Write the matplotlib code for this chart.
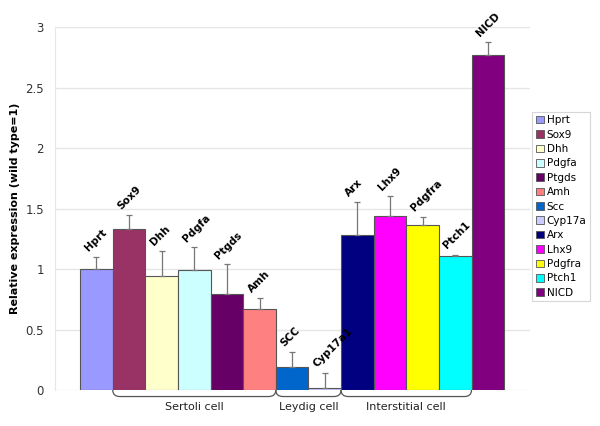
import matplotlib
matplotlib.use("Agg")
import matplotlib.pyplot as plt
from matplotlib.path import Path
from matplotlib.patches import PathPatch, Patch
import matplotlib.transforms as mtransforms
import numpy as np

# data
genes = ["Hprt", "Sox9", "Dhh", "Pdgfa", "Ptgds", "Amh", "Scc", "Cyp17a",
         "Arx", "Lhx9", "Pdgfra", "Ptch1", "NICD"]
bar_labels = ["Hprt", "Sox9", "Dhh", "Pdgfa", "Ptgds", "Amh", "SCC", "Cyp17a1",
              "Arx", "Lhx9", "Pdgfra", "Ptch1", "NICD"]
values = [1.00, 1.33, 0.94, 0.99, 0.79, 0.67, 0.19, 0.02,
          1.28, 1.44, 1.36, 1.11, 2.77]
errors = [0.10, 0.12, 0.21, 0.19, 0.25, 0.09, 0.12, 0.12,
          0.27, 0.16, 0.07, 0.01, 0.11]
colors = ["#9999FF", "#993366", "#FFFFCC", "#CCFFFF", "#660066", "#FF8080",
          "#0066CC", "#CCCCFF", "#000080", "#FF00FF", "#FFFF00", "#00FFFF",
          "#800080"]
groups = ["Sertoli cell", "Leydig cell", "Interstitial cell"]
group_spans = [(1, 5), (6, 7), (8, 11)]  # first and last bar index

fig = plt.figure(figsize=(6, 4.26), dpi=100)
ax = fig.add_axes([0.0917, 0.0845, 0.792, 0.852])

x = np.arange(len(genes))
ax.bar(x, values, width=1.0, color=colors, edgecolor="#555555", linewidth=0.8, zorder=3)
ax.errorbar(x, values, yerr=[np.zeros(len(errors)), errors], fmt="none",
            ecolor="#777777", elinewidth=0.9, capsize=2.5, capthick=0.9, zorder=4)

# rotated labels above error bars
for xi, v, e, lab in zip(x, values, errors, bar_labels):
    ax.text(xi - 0.2, v + e + 0.03, lab, rotation=45, fontsize=7.5, fontweight="bold",
            ha="left", va="bottom", rotation_mode="anchor", zorder=5)

ax.set_ylim(0, 3)
ax.set_xlim(-1.27, 13.3)
ax.set_yticks([0, 0.5, 1, 1.5, 2, 2.5, 3])
ax.set_yticklabels(["0", "0.5", "1", "1.5", "2", "2.5", "3"])
ax.tick_params(axis="y", labelsize=8.5, length=0, pad=8, colors="#333333")
ax.set_xticks([])
ax.grid(axis="y", color="#E6E6E6", linewidth=1.0, zorder=0)
for s in ["top", "right", "bottom"]:
    ax.spines[s].set_visible(False)
ax.spines["left"].set_color("#E6E6E6")
ax.set_ylabel("Relative expression (wild type=1)", fontsize=8, fontweight="bold")
ax.yaxis.set_label_coords(-0.074, 0.5)

# curly brackets under the groups
trans = mtransforms.blended_transform_factory(ax.transData, ax.transAxes)
for name, (a, b) in zip(groups, group_spans):
    x0, x1 = a - 0.5, b + 0.5
    y0, y1 = 0.0, -0.018
    r = 0.22
    verts = [(x0, y0), (x0, y1), (x0 + r, y1), (x1 - r, y1), (x1, y1), (x1, y0)]
    codes = [Path.MOVETO, Path.CURVE3, Path.CURVE3, Path.LINETO, Path.CURVE3, Path.CURVE3]
    ax.add_patch(PathPatch(Path(verts, codes), transform=trans, fill=False,
                           edgecolor="#555555", linewidth=0.9, clip_on=False))
    ax.text((x0 + x1) / 2, -0.034, name, transform=trans, ha="center", va="top",
            fontsize=8, color="#222222")

handles = [Patch(facecolor=c, edgecolor="#555555", linewidth=0.6) for c in colors]
leg = fig.legend(handles, genes, loc="upper left", bbox_to_anchor=(0.887, 0.738),
                 fontsize=7.5, frameon=True, handlelength=0.75, handleheight=0.75,
                 handletextpad=0.3, labelspacing=0.42, borderpad=0.35, fancybox=False,
                 borderaxespad=0)
leg.get_frame().set_edgecolor("#CCCCCC")
leg.get_frame().set_linewidth(0.8)

fig.savefig("out.png", dpi=100)
